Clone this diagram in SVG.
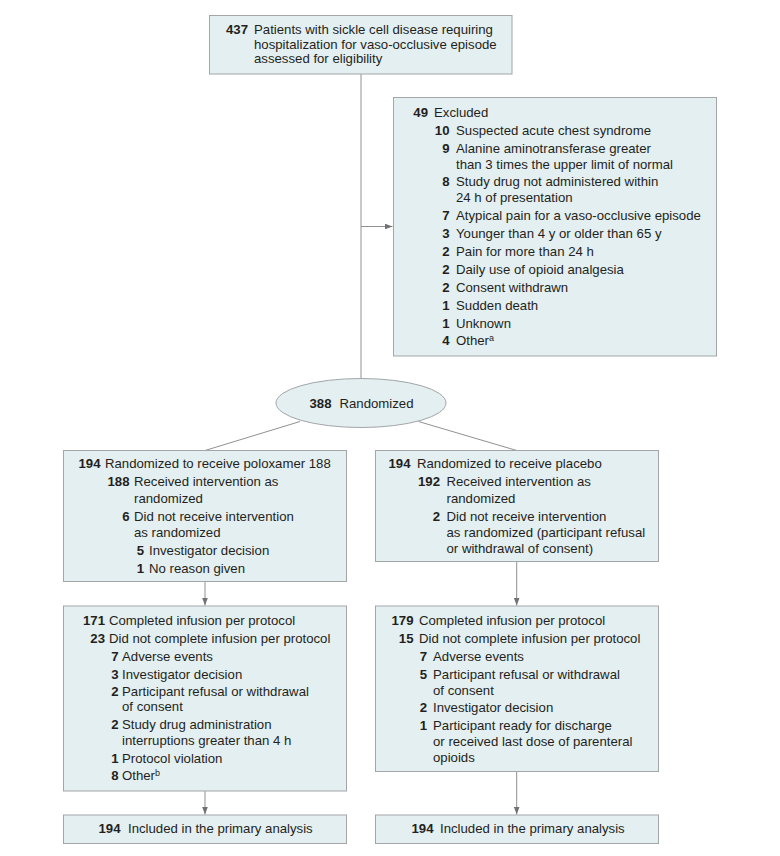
<svg xmlns="http://www.w3.org/2000/svg" width="780" height="856" viewBox="0 0 780 856">
<style>
text{font-family:"Liberation Sans",Arial,sans-serif;font-size:13.2px;fill:#231f20}
.n{font-weight:bold;text-anchor:end}
.box{fill:#e4eff2;stroke:#a3a5a7;stroke-width:1}
.ln{stroke:#8f9193;stroke-width:1;fill:none}
.sup{font-size:9px}
</style>
<defs>
<marker id="ah" viewBox="0 0 8 6" refX="8" refY="3" markerWidth="8" markerHeight="6" markerUnits="userSpaceOnUse" orient="auto">
<path d="M0,0 L8,3 L0,6 z" fill="#707274"/>
</marker>
</defs>
<rect width="780" height="856" fill="#ffffff"/>

<g id="connectors">
<line class="ln" x1="361" y1="74" x2="361" y2="378.5"/>
<line class="ln" x1="361" y1="226.5" x2="392.5" y2="226.5" marker-end="url(#ah)"/>
<line class="ln" x1="300" y1="421.5" x2="205" y2="450.5"/>
<line class="ln" x1="418.5" y1="421.5" x2="516.7" y2="450.5"/>
<line class="ln" x1="205" y1="581.5" x2="205" y2="605.5" marker-end="url(#ah)"/>
<line class="ln" x1="516.7" y1="561.5" x2="516.7" y2="605.5" marker-end="url(#ah)"/>
<line class="ln" x1="205" y1="791" x2="205" y2="814.5" marker-end="url(#ah)"/>
<line class="ln" x1="516.7" y1="771.5" x2="516.7" y2="814.5" marker-end="url(#ah)"/>
</g>

<g id="assessed">
<rect class="box" x="209.5" y="15.5" width="302.5" height="58.5"/>
<text class="n" x="248" y="34">437</text>
<text x="254" y="34">Patients with sickle cell disease requiring</text>
<text x="254" y="48.5">hospitalization for vaso-occlusive episode</text>
<text x="254" y="63">assessed for eligibility</text>
</g>

<g id="excluded">
<rect class="box" x="393.5" y="97.5" width="323" height="258.5"/>
<text class="n" x="428" y="116.5">49</text>
<text x="434" y="116.5">Excluded</text>
<text class="n" x="449.5" y="134.5">10</text>
<text x="456" y="134.5">Suspected acute chest syndrome</text>
<text class="n" x="449.5" y="152.5">9</text>
<text x="456" y="152.5">Alanine aminotransferase greater</text>
<text x="456" y="168.5">than 3 times the upper limit of normal</text>
<text class="n" x="449.5" y="185.5">8</text>
<text x="456" y="185.5">Study drug not administered within</text>
<text x="456" y="201.5">24 h of presentation</text>
<text class="n" x="449.5" y="219.5">7</text>
<text x="456" y="219.5">Atypical pain for a vaso-occlusive episode</text>
<text class="n" x="449.5" y="237.5">3</text>
<text x="456" y="237.5">Younger than 4 y or older than 65 y</text>
<text class="n" x="449.5" y="255.5">2</text>
<text x="456" y="255.5">Pain for more than 24 h</text>
<text class="n" x="449.5" y="273.5">2</text>
<text x="456" y="273.5">Daily use of opioid analgesia</text>
<text class="n" x="449.5" y="291.5">2</text>
<text x="456" y="291.5">Consent withdrawn</text>
<text class="n" x="449.5" y="309.5">1</text>
<text x="456" y="309.5">Sudden death</text>
<text class="n" x="449.5" y="327.5">1</text>
<text x="456" y="327.5">Unknown</text>
<text class="n" x="449.5" y="345">4</text>
<text x="456" y="345">Other<tspan class="sup" dy="-4.5">a</tspan></text>
</g>

<g id="randomized">
<ellipse class="box" cx="361" cy="403" rx="85" ry="24.5"/>
<text class="n" x="331.5" y="407.5">388</text>
<text x="339.5" y="407.5">Randomized</text>
</g>

<g id="poloxamer-allocation">
<rect class="box" x="63.5" y="450.5" width="283" height="131"/>
<text class="n" x="100.5" y="468">194</text>
<text x="105" y="468">Randomized to receive poloxamer 188</text>
<text class="n" x="129.5" y="486">188</text>
<text x="134" y="486">Received intervention as</text>
<text x="134" y="502.5">randomized</text>
<text class="n" x="129.5" y="520.5">6</text>
<text x="134" y="520.5">Did not receive intervention</text>
<text x="134" y="537">as randomized</text>
<text class="n" x="144" y="555">5</text>
<text x="149" y="555">Investigator decision</text>
<text class="n" x="144" y="573">1</text>
<text x="149" y="573">No reason given</text>
</g>

<g id="placebo-allocation">
<rect class="box" x="375.5" y="450.5" width="283" height="111"/>
<text class="n" x="410.5" y="468">194</text>
<text x="417" y="468">Randomized to receive placebo</text>
<text class="n" x="440" y="486">192</text>
<text x="446.5" y="486">Received intervention as</text>
<text x="446.5" y="502.5">randomized</text>
<text class="n" x="440" y="520.5">2</text>
<text x="446.5" y="520.5">Did not receive intervention</text>
<text x="446.5" y="537">as randomized (participant refusal</text>
<text x="446.5" y="552.5">or withdrawal of consent)</text>
</g>

<g id="poloxamer-followup">
<rect class="box" x="63.5" y="606" width="283" height="185"/>
<text class="n" x="105" y="625">171</text>
<text x="109" y="625">Completed infusion per protocol</text>
<text class="n" x="105" y="643">23</text>
<text x="109" y="643">Did not complete infusion per protocol</text>
<text class="n" x="118.5" y="661">7</text>
<text x="122" y="661">Adverse events</text>
<text class="n" x="118.5" y="678.5">3</text>
<text x="122" y="678.5">Investigator decision</text>
<text class="n" x="118.5" y="695.5">2</text>
<text x="122" y="695.5">Participant refusal or withdrawal</text>
<text x="122" y="711">of consent</text>
<text class="n" x="118.5" y="729">2</text>
<text x="122" y="729">Study drug administration</text>
<text x="122" y="745">interruptions greater than 4 h</text>
<text class="n" x="118.5" y="762.5">1</text>
<text x="122" y="762.5">Protocol violation</text>
<text class="n" x="118.5" y="780">8</text>
<text x="122" y="780">Other<tspan class="sup" dy="-4.5">b</tspan></text>
</g>

<g id="placebo-followup">
<rect class="box" x="375.5" y="606" width="283" height="165.5"/>
<text class="n" x="413.5" y="625">179</text>
<text x="419" y="625">Completed infusion per protocol</text>
<text class="n" x="413.5" y="643">15</text>
<text x="419" y="643">Did not complete infusion per protocol</text>
<text class="n" x="427" y="661">7</text>
<text x="433" y="661">Adverse events</text>
<text class="n" x="427" y="678.5">5</text>
<text x="433" y="678.5">Participant refusal or withdrawal</text>
<text x="433" y="694.5">of consent</text>
<text class="n" x="427" y="712">2</text>
<text x="433" y="712">Investigator decision</text>
<text class="n" x="427" y="729.5">1</text>
<text x="433" y="729.5">Participant ready for discharge</text>
<text x="433" y="745.5">or received last dose of parenteral</text>
<text x="433" y="762">opioids</text>
</g>

<g id="poloxamer-analysis">
<rect class="box" x="63.5" y="815" width="283" height="28.5"/>
<text class="n" x="120.5" y="833">194</text>
<text x="128" y="833">Included in the primary analysis</text>
</g>

<g id="placebo-analysis">
<rect class="box" x="375.5" y="815" width="283" height="28.5"/>
<text class="n" x="433.5" y="833">194</text>
<text x="440" y="833">Included in the primary analysis</text>
</g>
</svg>
